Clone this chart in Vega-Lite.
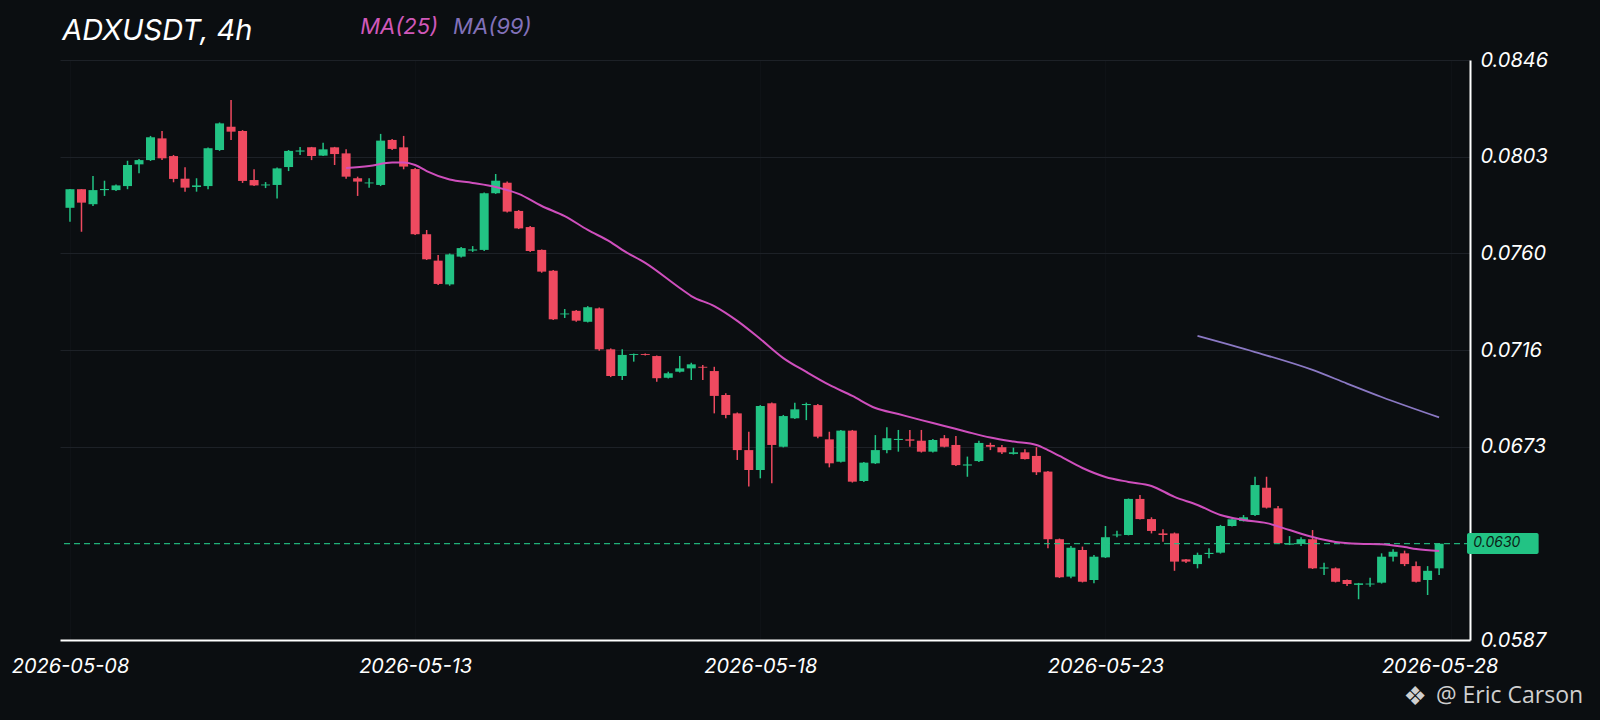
{
  "$schema": "https://vega.github.io/schema/vega-lite/v6.json",
  "width": 1410,
  "height": 580,
  "autosize": "none",
  "padding": {"left": 60, "top": 60, "right": 130, "bottom": 80},
  "background": "#0b0e11",
  "config": {
    "view": {"stroke": null},
    "font": "Inter",
    "axis": {
      "domainColor": "#ffffff",
      "domainWidth": 2,
      "ticks": false,
      "labelColor": "#ffffff",
      "labelFont": "Inter",
      "labelFontSize": 20,
      "labelFontStyle": "italic",
      "labelFlush": false,
      "labelOverlap": false
    }
  },
  "datasets": {
    "candles": [
      {"t":"2026-05-08T00:00","o":0.07800,"h":0.07884,"l":0.07738,"c":0.07883},
      {"t":"2026-05-08T04:00","o":0.07883,"h":0.07883,"l":0.07693,"c":0.07823},
      {"t":"2026-05-08T08:00","o":0.07816,"h":0.07942,"l":0.07808,"c":0.07879},
      {"t":"2026-05-08T12:00","o":0.07879,"h":0.07921,"l":0.07853,"c":0.07884},
      {"t":"2026-05-08T16:00","o":0.07879,"h":0.07904,"l":0.07875,"c":0.07900},
      {"t":"2026-05-08T20:00","o":0.07897,"h":0.08010,"l":0.07883,"c":0.07991},
      {"t":"2026-05-09T00:00","o":0.07994,"h":0.08018,"l":0.07954,"c":0.08013},
      {"t":"2026-05-09T04:00","o":0.08013,"h":0.08121,"l":0.08009,"c":0.08115},
      {"t":"2026-05-09T08:00","o":0.08110,"h":0.08143,"l":0.08013,"c":0.08021},
      {"t":"2026-05-09T12:00","o":0.08031,"h":0.08036,"l":0.07914,"c":0.07929},
      {"t":"2026-05-09T16:00","o":0.07930,"h":0.07981,"l":0.07872,"c":0.07890},
      {"t":"2026-05-09T20:00","o":0.07893,"h":0.07932,"l":0.07872,"c":0.07900},
      {"t":"2026-05-10T00:00","o":0.07897,"h":0.08069,"l":0.07883,"c":0.08066},
      {"t":"2026-05-10T04:00","o":0.08058,"h":0.08181,"l":0.08054,"c":0.08177},
      {"t":"2026-05-10T08:00","o":0.08162,"h":0.08281,"l":0.08103,"c":0.08140},
      {"t":"2026-05-10T12:00","o":0.08143,"h":0.08147,"l":0.07911,"c":0.07920},
      {"t":"2026-05-10T16:00","o":0.07924,"h":0.07972,"l":0.07897,"c":0.07900},
      {"t":"2026-05-10T20:00","o":0.07900,"h":0.07915,"l":0.07888,"c":0.07904},
      {"t":"2026-05-11T00:00","o":0.07902,"h":0.07980,"l":0.07842,"c":0.07976},
      {"t":"2026-05-11T04:00","o":0.07982,"h":0.08058,"l":0.07964,"c":0.08054},
      {"t":"2026-05-11T08:00","o":0.08051,"h":0.08072,"l":0.08036,"c":0.08056},
      {"t":"2026-05-11T12:00","o":0.08070,"h":0.08072,"l":0.08013,"c":0.08031},
      {"t":"2026-05-11T16:00","o":0.08033,"h":0.08091,"l":0.08031,"c":0.08061},
      {"t":"2026-05-11T20:00","o":0.08070,"h":0.08072,"l":0.07991,"c":0.08040},
      {"t":"2026-05-12T00:00","o":0.08043,"h":0.08061,"l":0.07930,"c":0.07939},
      {"t":"2026-05-12T04:00","o":0.07932,"h":0.07939,"l":0.07853,"c":0.07917},
      {"t":"2026-05-12T08:00","o":0.07909,"h":0.07932,"l":0.07890,"c":0.07913},
      {"t":"2026-05-12T12:00","o":0.07902,"h":0.08130,"l":0.07897,"c":0.08100},
      {"t":"2026-05-12T16:00","o":0.08103,"h":0.08107,"l":0.08058,"c":0.08063},
      {"t":"2026-05-12T20:00","o":0.08070,"h":0.08121,"l":0.07972,"c":0.07984},
      {"t":"2026-05-13T00:00","o":0.07973,"h":0.07978,"l":0.07679,"c":0.07682},
      {"t":"2026-05-13T04:00","o":0.07682,"h":0.07701,"l":0.07567,"c":0.07570},
      {"t":"2026-05-13T08:00","o":0.07564,"h":0.07589,"l":0.07455,"c":0.07460},
      {"t":"2026-05-13T12:00","o":0.07458,"h":0.07596,"l":0.07452,"c":0.07592},
      {"t":"2026-05-13T16:00","o":0.07582,"h":0.07625,"l":0.07578,"c":0.07620},
      {"t":"2026-05-13T20:00","o":0.07609,"h":0.07629,"l":0.07603,"c":0.07614},
      {"t":"2026-05-14T00:00","o":0.07612,"h":0.07868,"l":0.07607,"c":0.07865},
      {"t":"2026-05-14T04:00","o":0.07865,"h":0.07951,"l":0.07862,"c":0.07921},
      {"t":"2026-05-14T08:00","o":0.07912,"h":0.07917,"l":0.07779,"c":0.07783},
      {"t":"2026-05-14T12:00","o":0.07786,"h":0.07790,"l":0.07705,"c":0.07708},
      {"t":"2026-05-14T16:00","o":0.07714,"h":0.07719,"l":0.07603,"c":0.07607},
      {"t":"2026-05-14T20:00","o":0.07612,"h":0.07614,"l":0.07510,"c":0.07515},
      {"t":"2026-05-15T00:00","o":0.07519,"h":0.07522,"l":0.07299,"c":0.07302},
      {"t":"2026-05-15T04:00","o":0.07324,"h":0.07348,"l":0.07308,"c":0.07328},
      {"t":"2026-05-15T08:00","o":0.07340,"h":0.07344,"l":0.07291,"c":0.07296},
      {"t":"2026-05-15T12:00","o":0.07291,"h":0.07361,"l":0.07288,"c":0.07356},
      {"t":"2026-05-15T16:00","o":0.07351,"h":0.07355,"l":0.07162,"c":0.07168},
      {"t":"2026-05-15T20:00","o":0.07168,"h":0.07172,"l":0.07044,"c":0.07049},
      {"t":"2026-05-16T00:00","o":0.07049,"h":0.07168,"l":0.07031,"c":0.07143},
      {"t":"2026-05-16T04:00","o":0.07143,"h":0.07149,"l":0.07113,"c":0.07147},
      {"t":"2026-05-16T08:00","o":0.07147,"h":0.07149,"l":0.07140,"c":0.07143},
      {"t":"2026-05-16T12:00","o":0.07138,"h":0.07140,"l":0.07023,"c":0.07039},
      {"t":"2026-05-16T16:00","o":0.07041,"h":0.07068,"l":0.07038,"c":0.07061},
      {"t":"2026-05-16T20:00","o":0.07068,"h":0.07138,"l":0.07065,"c":0.07083},
      {"t":"2026-05-17T00:00","o":0.07083,"h":0.07108,"l":0.07031,"c":0.07101},
      {"t":"2026-05-17T04:00","o":0.07090,"h":0.07098,"l":0.07031,"c":0.07086},
      {"t":"2026-05-17T08:00","o":0.07071,"h":0.07090,"l":0.06882,"c":0.06960},
      {"t":"2026-05-17T12:00","o":0.06964,"h":0.06972,"l":0.06860,"c":0.06875},
      {"t":"2026-05-17T16:00","o":0.06882,"h":0.06886,"l":0.06674,"c":0.06718},
      {"t":"2026-05-17T20:00","o":0.06718,"h":0.06800,"l":0.06555,"c":0.06629},
      {"t":"2026-05-18T00:00","o":0.06629,"h":0.06919,"l":0.06592,"c":0.06915},
      {"t":"2026-05-18T04:00","o":0.06927,"h":0.06931,"l":0.06570,"c":0.06741},
      {"t":"2026-05-18T08:00","o":0.06733,"h":0.06875,"l":0.06730,"c":0.06870},
      {"t":"2026-05-18T12:00","o":0.06860,"h":0.06930,"l":0.06857,"c":0.06900},
      {"t":"2026-05-18T16:00","o":0.06919,"h":0.06930,"l":0.06852,"c":0.06924},
      {"t":"2026-05-18T20:00","o":0.06919,"h":0.06924,"l":0.06771,"c":0.06778},
      {"t":"2026-05-19T00:00","o":0.06766,"h":0.06800,"l":0.06641,"c":0.06659},
      {"t":"2026-05-19T04:00","o":0.06666,"h":0.06808,"l":0.06663,"c":0.06805},
      {"t":"2026-05-19T08:00","o":0.06805,"h":0.06808,"l":0.06573,"c":0.06577},
      {"t":"2026-05-19T12:00","o":0.06580,"h":0.06665,"l":0.06576,"c":0.06662},
      {"t":"2026-05-19T16:00","o":0.06659,"h":0.06785,"l":0.06656,"c":0.06718},
      {"t":"2026-05-19T20:00","o":0.06718,"h":0.06820,"l":0.06704,"c":0.06771},
      {"t":"2026-05-20T00:00","o":0.06763,"h":0.06808,"l":0.06711,"c":0.06768},
      {"t":"2026-05-20T04:00","o":0.06766,"h":0.06808,"l":0.06733,"c":0.06760},
      {"t":"2026-05-20T08:00","o":0.06760,"h":0.06808,"l":0.06707,"c":0.06711},
      {"t":"2026-05-20T12:00","o":0.06711,"h":0.06768,"l":0.06707,"c":0.06763},
      {"t":"2026-05-20T16:00","o":0.06771,"h":0.06785,"l":0.06730,"c":0.06733},
      {"t":"2026-05-20T20:00","o":0.06741,"h":0.06781,"l":0.06647,"c":0.06651},
      {"t":"2026-05-21T00:00","o":0.06649,"h":0.06689,"l":0.06599,"c":0.06654},
      {"t":"2026-05-21T04:00","o":0.06669,"h":0.06760,"l":0.06665,"c":0.06750},
      {"t":"2026-05-21T08:00","o":0.06741,"h":0.06751,"l":0.06718,"c":0.06733},
      {"t":"2026-05-21T12:00","o":0.06731,"h":0.06741,"l":0.06701,"c":0.06708},
      {"t":"2026-05-21T16:00","o":0.06701,"h":0.06729,"l":0.06698,"c":0.06708},
      {"t":"2026-05-21T20:00","o":0.06708,"h":0.06722,"l":0.06676,"c":0.06678},
      {"t":"2026-05-22T00:00","o":0.06692,"h":0.06731,"l":0.06607,"c":0.06619},
      {"t":"2026-05-22T04:00","o":0.06622,"h":0.06625,"l":0.06280,"c":0.06320},
      {"t":"2026-05-22T08:00","o":0.06320,"h":0.06323,"l":0.06147,"c":0.06150},
      {"t":"2026-05-22T12:00","o":0.06153,"h":0.06290,"l":0.06146,"c":0.06282},
      {"t":"2026-05-22T16:00","o":0.06272,"h":0.06287,"l":0.06127,"c":0.06130},
      {"t":"2026-05-22T20:00","o":0.06138,"h":0.06250,"l":0.06123,"c":0.06242},
      {"t":"2026-05-23T00:00","o":0.06239,"h":0.06379,"l":0.06236,"c":0.06329},
      {"t":"2026-05-23T04:00","o":0.06337,"h":0.06358,"l":0.06329,"c":0.06341},
      {"t":"2026-05-23T08:00","o":0.06339,"h":0.06502,"l":0.06337,"c":0.06500},
      {"t":"2026-05-23T12:00","o":0.06500,"h":0.06518,"l":0.06408,"c":0.06410},
      {"t":"2026-05-23T16:00","o":0.06410,"h":0.06418,"l":0.06346,"c":0.06357},
      {"t":"2026-05-23T20:00","o":0.06346,"h":0.06364,"l":0.06309,"c":0.06339},
      {"t":"2026-05-24T00:00","o":0.06346,"h":0.06350,"l":0.06179,"c":0.06220},
      {"t":"2026-05-24T04:00","o":0.06230,"h":0.06232,"l":0.06214,"c":0.06220},
      {"t":"2026-05-24T08:00","o":0.06209,"h":0.06260,"l":0.06190,"c":0.06250},
      {"t":"2026-05-24T12:00","o":0.06254,"h":0.06280,"l":0.06235,"c":0.06259},
      {"t":"2026-05-24T16:00","o":0.06260,"h":0.06384,"l":0.06256,"c":0.06379},
      {"t":"2026-05-24T20:00","o":0.06379,"h":0.06413,"l":0.06377,"c":0.06409},
      {"t":"2026-05-25T00:00","o":0.06401,"h":0.06428,"l":0.06399,"c":0.06418},
      {"t":"2026-05-25T04:00","o":0.06428,"h":0.06599,"l":0.06424,"c":0.06562},
      {"t":"2026-05-25T08:00","o":0.06550,"h":0.06599,"l":0.06457,"c":0.06461},
      {"t":"2026-05-25T12:00","o":0.06458,"h":0.06468,"l":0.06299,"c":0.06302},
      {"t":"2026-05-25T16:00","o":0.06296,"h":0.06334,"l":0.06294,"c":0.06301},
      {"t":"2026-05-25T20:00","o":0.06299,"h":0.06329,"l":0.06290,"c":0.06320},
      {"t":"2026-05-26T00:00","o":0.06320,"h":0.06361,"l":0.06187,"c":0.06190},
      {"t":"2026-05-26T04:00","o":0.06189,"h":0.06215,"l":0.06160,"c":0.06194},
      {"t":"2026-05-26T08:00","o":0.06190,"h":0.06194,"l":0.06127,"c":0.06130},
      {"t":"2026-05-26T12:00","o":0.06138,"h":0.06140,"l":0.06111,"c":0.06120},
      {"t":"2026-05-26T16:00","o":0.06116,"h":0.06125,"l":0.06052,"c":0.06123},
      {"t":"2026-05-26T20:00","o":0.06118,"h":0.06148,"l":0.06108,"c":0.06122},
      {"t":"2026-05-27T00:00","o":0.06126,"h":0.06257,"l":0.06122,"c":0.06242},
      {"t":"2026-05-27T04:00","o":0.06242,"h":0.06275,"l":0.06220,"c":0.06264},
      {"t":"2026-05-27T08:00","o":0.06257,"h":0.06269,"l":0.06200,"c":0.06209},
      {"t":"2026-05-27T12:00","o":0.06200,"h":0.06220,"l":0.06127,"c":0.06130},
      {"t":"2026-05-27T16:00","o":0.06138,"h":0.06200,"l":0.06071,"c":0.06179},
      {"t":"2026-05-27T20:00","o":0.06190,"h":0.06302,"l":0.06160,"c":0.06300}
    ],
    "ma25": [
      {"t":"2026-05-12T00:00","v":0.07978},
      {"t":"2026-05-12T08:00","v":0.07987},
      {"t":"2026-05-12T16:00","v":0.08002},
      {"t":"2026-05-12T20:00","v":0.08002},
      {"t":"2026-05-13T00:00","v":0.07991},
      {"t":"2026-05-13T04:00","v":0.07964},
      {"t":"2026-05-13T12:00","v":0.07926},
      {"t":"2026-05-13T20:00","v":0.07911},
      {"t":"2026-05-14T04:00","v":0.07893},
      {"t":"2026-05-14T12:00","v":0.07862},
      {"t":"2026-05-14T20:00","v":0.07808},
      {"t":"2026-05-15T04:00","v":0.07763},
      {"t":"2026-05-15T12:00","v":0.07701},
      {"t":"2026-05-15T20:00","v":0.07647},
      {"t":"2026-05-16T00:00","v":0.07612},
      {"t":"2026-05-16T08:00","v":0.07554},
      {"t":"2026-05-16T20:00","v":0.07442},
      {"t":"2026-05-17T00:00","v":0.07406},
      {"t":"2026-05-17T08:00","v":0.07361},
      {"t":"2026-05-17T16:00","v":0.07295},
      {"t":"2026-05-18T00:00","v":0.07214},
      {"t":"2026-05-18T08:00","v":0.07129},
      {"t":"2026-05-18T16:00","v":0.07067},
      {"t":"2026-05-19T00:00","v":0.07009},
      {"t":"2026-05-19T08:00","v":0.06960},
      {"t":"2026-05-19T16:00","v":0.06906},
      {"t":"2026-05-20T00:00","v":0.06879},
      {"t":"2026-05-20T08:00","v":0.06852},
      {"t":"2026-05-20T16:00","v":0.06826},
      {"t":"2026-05-21T00:00","v":0.06799},
      {"t":"2026-05-21T08:00","v":0.06774},
      {"t":"2026-05-21T16:00","v":0.06756},
      {"t":"2026-05-22T00:00","v":0.06741},
      {"t":"2026-05-22T04:00","v":0.06718},
      {"t":"2026-05-22T08:00","v":0.06692},
      {"t":"2026-05-22T16:00","v":0.06638},
      {"t":"2026-05-23T00:00","v":0.06598},
      {"t":"2026-05-23T08:00","v":0.06576},
      {"t":"2026-05-23T16:00","v":0.06558},
      {"t":"2026-05-24T00:00","v":0.06509},
      {"t":"2026-05-24T08:00","v":0.06473},
      {"t":"2026-05-24T16:00","v":0.06428},
      {"t":"2026-05-25T00:00","v":0.06406},
      {"t":"2026-05-25T08:00","v":0.06392},
      {"t":"2026-05-25T16:00","v":0.06361},
      {"t":"2026-05-26T00:00","v":0.06330},
      {"t":"2026-05-26T08:00","v":0.06308},
      {"t":"2026-05-26T16:00","v":0.06300},
      {"t":"2026-05-27T00:00","v":0.06298},
      {"t":"2026-05-27T08:00","v":0.06285},
      {"t":"2026-05-27T12:00","v":0.06276},
      {"t":"2026-05-27T20:00","v":0.06267}
    ],
    "ma99": [
      {"t":"2026-05-24T08:00","v":0.07228},
      {"t":"2026-05-25T04:00","v":0.07156},
      {"t":"2026-05-26T00:00","v":0.07076},
      {"t":"2026-05-26T12:00","v":0.07015},
      {"t":"2026-05-27T00:00","v":0.06955},
      {"t":"2026-05-27T20:00","v":0.06864}
    ]
  },
  "layer": [
    {
      "data": {"name": "candles"},
      "mark": {"type": "rule", "strokeWidth": 1.5},
      "encoding": {
        "x": {
          "field": "t",
          "type": "temporal",
          "scale": {
            "domain": [
              {"year": 2026, "month": 5, "date": 7, "hours": 22, "minutes": 16},
              {"year": 2026, "month": 5, "date": 28, "hours": 5, "minutes": 0}
            ],
            "nice": false
          },
          "axis": {
            "title": null,
            "values": [
              {"year": 2026, "month": 5, "date": 8},
              {"year": 2026, "month": 5, "date": 13},
              {"year": 2026, "month": 5, "date": 18},
              {"year": 2026, "month": 5, "date": 23},
              {"year": 2026, "month": 5, "date": 28}
            ],
            "format": "%Y-%m-%d",
            "grid": true,
            "gridColor": "#0f1216",
            "labelBaseline": "top",
            "labelPadding": 16,
            "labelOffset": {
              "condition": {"test": "datum.value > datetime(2026, 4, 27)", "value": -11},
              "value": 0
            }
          }
        },
        "y": {
          "field": "l",
          "type": "quantitative",
          "scale": {"domain": [0.0587, 0.0846], "nice": false, "zero": false},
          "axis": {
            "title": null,
            "orient": "right",
            "values": [0.0587, 0.06733, 0.07164, 0.07597, 0.08028, 0.0846],
            "format": ".4f",
            "grid": true,
            "gridColor": "#1d2127",
            "labelAlign": "left",
            "labelBaseline": "middle",
            "labelPadding": 10
          }
        },
        "y2": {"field": "h"},
        "color": {
          "condition": {"test": "datum.c >= datum.o", "value": "#22c384"},
          "value": "#ef4a60"
        }
      }
    },
    {
      "data": {"name": "candles"},
      "mark": {"type": "bar", "width": 9},
      "encoding": {
        "x": {"field": "t", "type": "temporal", "axis": {"title": null}},
        "y": {"field": "o", "type": "quantitative", "axis": {"title": null}},
        "y2": {"field": "c"},
        "color": {
          "condition": {"test": "datum.c >= datum.o", "value": "#22c384"},
          "value": "#ef4a60"
        }
      }
    },
    {
      "data": {"values": [{}]},
      "mark": {"type": "rule", "color": "#22c384", "strokeWidth": 1.3, "strokeDash": [6, 4], "opacity": 0.9},
      "encoding": {
        "y": {"datum": 0.0630, "type": "quantitative", "axis": {"title": null}}
      }
    },
    {
      "data": {"name": "ma25"},
      "mark": {"type": "line", "color": "#cf4fbd", "strokeWidth": 2, "interpolate": "monotone"},
      "encoding": {
        "x": {"field": "t", "type": "temporal", "axis": {"title": null}},
        "y": {"field": "v", "type": "quantitative", "axis": {"title": null}}
      }
    },
    {
      "data": {"name": "ma99"},
      "mark": {"type": "line", "color": "#8b79c4", "strokeWidth": 1.8, "interpolate": "monotone"},
      "encoding": {
        "x": {"field": "t", "type": "temporal", "axis": {"title": null}},
        "y": {"field": "v", "type": "quantitative", "axis": {"title": null}}
      }
    },
    {
      "data": {"values": [{}]},
      "mark": {"type": "rect", "color": "#22c384", "cornerRadius": 2},
      "encoding": {
        "x": {"datum": {"year": 2026, "month": 5, "date": 28, "hours": 5, "minutes": 42}, "type": "temporal", "axis": {"title": null}},
        "x2": {"datum": {"year": 2026, "month": 5, "date": 29, "hours": 6, "minutes": 36}},
        "y": {"datum": 0.06348, "type": "quantitative", "axis": {"title": null}},
        "y2": {"datum": 0.06254}
      }
    },
    {
      "data": {"values": [{}]},
      "mark": {"type": "text", "text": "0.0630", "font": "Inter", "fontSize": 14, "fontStyle": "italic", "color": "#0b1f17", "align": "left", "baseline": "middle"},
      "encoding": {
        "x": {"datum": {"year": 2026, "month": 5, "date": 28, "hours": 7, "minutes": 54}, "type": "temporal", "axis": {"title": null}},
        "y": {"datum": 0.06301, "type": "quantitative", "axis": {"title": null}}
      }
    },
    {
      "data": {"values": [{}]},
      "mark": {"type": "text", "text": "ADXUSDT, 4h", "font": "Inter", "fontSize": 29, "fontStyle": "italic", "color": "#ffffff", "align": "left", "baseline": "alphabetic"},
      "encoding": {
        "x": {"datum": {"year": 2026, "month": 5, "date": 7, "hours": 21, "minutes": 20}, "type": "temporal", "axis": {"title": null}},
        "y": {"datum": 0.08549, "type": "quantitative", "axis": {"title": null}}
      }
    },
    {
      "data": {"values": [{}]},
      "mark": {"type": "text", "text": "MA(25)", "font": "Inter", "fontSize": 22, "fontStyle": "italic", "color": "#d058b9", "align": "left", "baseline": "alphabetic"},
      "encoding": {
        "x": {"datum": {"year": 2026, "month": 5, "date": 12, "hours": 4, "minutes": 54}, "type": "temporal", "axis": {"title": null}},
        "y": {"datum": 0.08578, "type": "quantitative", "axis": {"title": null}}
      }
    },
    {
      "data": {"values": [{}]},
      "mark": {"type": "text", "text": "MA(99)", "font": "Inter", "fontSize": 22, "fontStyle": "italic", "color": "#8271b9", "align": "left", "baseline": "alphabetic"},
      "encoding": {
        "x": {"datum": {"year": 2026, "month": 5, "date": 13, "hours": 13, "minutes": 12}, "type": "temporal", "axis": {"title": null}},
        "y": {"datum": 0.08578, "type": "quantitative", "axis": {"title": null}}
      }
    },
    {
      "data": {"values": [{}]},
      "mark": {"type": "text", "text": "❖", "font": "DejaVu Sans", "fontSize": 26, "color": "#cfcfcf", "align": "center", "baseline": "middle"},
      "encoding": {
        "x": {"datum": {"year": 2026, "month": 5, "date": 27, "hours": 11, "minutes": 42}, "type": "temporal", "axis": {"title": null}},
        "y": {"datum": 0.05615, "type": "quantitative", "axis": {"title": null}}
      }
    },
    {
      "data": {"values": [{}]},
      "mark": {"type": "text", "text": "@ Eric Carson", "font": "Open Sans", "fontSize": 23, "color": "#cfcfcf", "align": "right", "baseline": "alphabetic"},
      "encoding": {
        "x": {"datum": {"year": 2026, "month": 5, "date": 29, "hours": 22, "minutes": 4}, "type": "temporal", "axis": {"title": null}},
        "y": {"datum": 0.05589, "type": "quantitative", "axis": {"title": null}}
      }
    }
  ]
}
